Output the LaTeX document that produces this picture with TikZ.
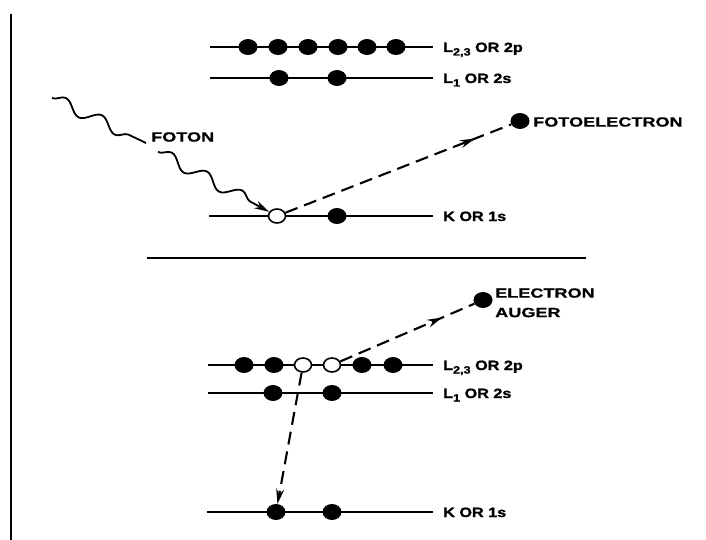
\documentclass[tikz,border=0pt]{standalone}
\usepackage{fontspec}
\setmainfont{Liberation Sans}
\newfontfamily\widefont[FakeStretch=1.36,FakeBold=0.8]{Liberation Sans Bold}
\newfontfamily\levelfont[FakeStretch=1.2,FakeBold=1.2]{Liberation Sans Bold}
\usetikzlibrary{arrows.meta,decorations.pathmorphing,decorations.markings,shapes.geometric}

\newcommand{\lsub}[1]{\raisebox{-3.5pt}{\fontsize{10.5}{10.5}\selectfont #1}}

\tikzset{
  x=1pt, y=-1pt,
  elec/.style={ellipse, fill=black, minimum width=19pt, minimum height=16pt, inner sep=0pt},
  hole/.style={ellipse, draw=black, line width=1.6pt, fill=white, minimum width=17pt, minimum height=14pt, inner sep=0pt},
  level/.style={line width=2pt},
  lvlbl/.style={anchor=base west, inner sep=0pt, font=\levelfont\fontsize{13.5}{15}\selectfont},
  tag/.style={anchor=west, inner sep=0pt, align=left, font=\widefont\fontsize{13.3}{19.5}\selectfont},
  tipshape/.style={Stealth[length=15pt,width=8pt]},
  emit/.style={line width=2.1pt, dash pattern=on 13pt off 7pt},
  midtip/.style={postaction={decorate, decoration={markings,
      mark=at position #1 with {\arrow{Stealth[length=15pt,width=8pt]}}}}},
  photon/.style={line width=1.8pt, decorate,
      decoration={snake, segment length=40pt, amplitude=6pt, post length=14pt}},
}

\begin{document}
\begin{tikzpicture}
\useasboundingbox (0,0) rectangle (706,540);

% frame edge on the left
\draw[line width=2.8pt] (11,14) coordinate (fa) -- (11,540) coordinate (fb);

% ---------- photoemission ----------
\coordinate (pa1) at (210,47);  \coordinate (pa2) at (433,47);
\coordinate (pb1) at (210,78);  \coordinate (pb2) at (433,78);
\coordinate (pc1) at (209,216); \coordinate (pc2) at (433,216);
\draw[level] (pa1) -- (pa2);
\draw[level] (pb1) -- (pb2);
\draw[level] (pc1) -- (pc2);

\node[lvlbl] (la) at (443,52) {L\lsub{2,3} OR 2p};
\node[lvlbl] (lb) at (443,83) {L\lsub{1} OR 2s};
\node[lvlbl] (lc) at (443,221) {K OR 1s};

\foreach \i/\x in {1/248,2/278,3/308,4/338,5/367,6/396}
  \node[elec] (pe\i) at (\x,47) {};
\node[elec] (ps1) at (279,78) {};
\node[elec] (ps2) at (337,78) {};
\node[hole] (pk1) at (277,216) {};
\node[elec] (pk2) at (337,216) {};

% incoming photon
\coordinate (ph1) at (52,98);
\coordinate (ph2) at (146,143);
\coordinate (ph3) at (158,152);
\draw[photon] (ph1) -- (ph2);
\draw[photon, -{Stealth[length=15pt,width=8pt]}] (ph3) -- (pk1);
\node[tag] (foton) at (151,137) {FOTON};

% ejected photoelectron
\node[elec] (fe) at (520,121) {};
\draw[emit, midtip=0.84] (pk1) -- (fe);
\node[tag] (fetxt) at (533,122) {FOTOELECTRON};

% separator
\draw[line width=2pt] (147,258) coordinate (sa) -- (586,258) coordinate (sb);

% ---------- Auger process ----------
\coordinate (qa1) at (208,365); \coordinate (qa2) at (433,365);
\coordinate (qb1) at (208,393); \coordinate (qb2) at (433,393);
\coordinate (qc1) at (207,512); \coordinate (qc2) at (433,512);
\draw[level] (qa1) -- (qa2);
\draw[level] (qb1) -- (qb2);
\draw[level] (qc1) -- (qc2);

\node[lvlbl] (ma) at (443,370) {L\lsub{2,3} OR 2p};
\node[lvlbl] (mb) at (443,398) {L\lsub{1} OR 2s};
\node[lvlbl] (mc) at (443,517) {K OR 1s};

\node[elec] (qe1) at (244,365) {};
\node[elec] (qe2) at (274,365) {};
\node[hole] (qh1) at (303,365) {};
\node[hole] (qh2) at (332,365) {};
\node[elec] (qe5) at (362,365) {};
\node[elec] (qe6) at (393,365) {};
\node[elec] (qs1) at (273,393) {};
\node[elec] (qs2) at (332,393) {};
\node[elec] (qk1) at (276,512) {};
\node[elec] (qk2) at (332,512) {};

% L electron filling the K vacancy
\draw[emit, -{Stealth[length=15pt,width=8pt]}] (qh1) -- (qk1);

% Auger electron leaving
\node[elec] (ae) at (483,300) {};
\draw[emit, midtip=0.76] (qh2) -- (ae);
\node[tag] (aetxt) at (495,302.8) {ELECTRON\\AUGER};
\end{tikzpicture}
\end{document}
